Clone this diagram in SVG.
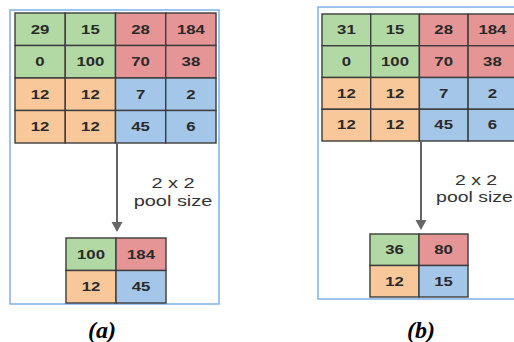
<svg xmlns="http://www.w3.org/2000/svg" width="514" height="342" viewBox="0 0 514 342">
<style>
.frame{fill:#fff;stroke:#7fb0e6;stroke-width:1.5}
.g{fill:#b2d8a4}.r{fill:#e69597}.o{fill:#f8c89a}.b{fill:#a3c6e9}
.cell rect{stroke:#3c3c3c;stroke-width:1.4}
.v{font-family:"Liberation Sans",Arial,sans-serif;font-size:12px;font-weight:bold;fill:#2a2a2a;text-anchor:middle}
.lbl{font-family:"Liberation Sans",Arial,sans-serif;font-size:15px;fill:#333;text-anchor:middle}
.cap{font-family:"Liberation Serif","Times New Roman",serif;font-size:24px;font-weight:bold;font-style:italic;fill:#000;text-anchor:middle}
.arr{stroke:#666;stroke-width:2;fill:none}
.head{fill:#666}
</style>
<rect class="frame" x="10" y="10" width="209" height="294"/>
<rect class="frame" x="318" y="7" width="210" height="292"/>

<g id="gridA" class="cell">
<rect class="g" x="15" y="13" width="50.25" height="32.5"/><rect class="g" x="65.25" y="13" width="50.25" height="32.5"/><rect class="r" x="115.5" y="13" width="50.25" height="32.5"/><rect class="r" x="165.75" y="13" width="50.25" height="32.5"/>
<rect class="g" x="15" y="45.5" width="50.25" height="32.5"/><rect class="g" x="65.25" y="45.5" width="50.25" height="32.5"/><rect class="r" x="115.5" y="45.5" width="50.25" height="32.5"/><rect class="r" x="165.75" y="45.5" width="50.25" height="32.5"/>
<rect class="o" x="15" y="78" width="50.25" height="32.5"/><rect class="o" x="65.25" y="78" width="50.25" height="32.5"/><rect class="b" x="115.5" y="78" width="50.25" height="32.5"/><rect class="b" x="165.75" y="78" width="50.25" height="32.5"/>
<rect class="o" x="15" y="110.5" width="50.25" height="32.5"/><rect class="o" x="65.25" y="110.5" width="50.25" height="32.5"/><rect class="b" x="115.5" y="110.5" width="50.25" height="32.5"/><rect class="b" x="165.75" y="110.5" width="50.25" height="32.5"/>
<text class="v" transform="translate(40,33.5) scale(1.4,1)">29</text><text class="v" transform="translate(90.4,33.5) scale(1.4,1)">15</text><text class="v" transform="translate(140.6,33.5) scale(1.4,1)">28</text><text class="v" transform="translate(190.9,33.5) scale(1.4,1)">184</text>
<text class="v" transform="translate(40,66) scale(1.4,1)">0</text><text class="v" transform="translate(90.4,66) scale(1.4,1)">100</text><text class="v" transform="translate(140.6,66) scale(1.4,1)">70</text><text class="v" transform="translate(190.9,66) scale(1.4,1)">38</text>
<text class="v" transform="translate(40,98.5) scale(1.4,1)">12</text><text class="v" transform="translate(90.4,98.5) scale(1.4,1)">12</text><text class="v" transform="translate(140.6,98.5) scale(1.4,1)">7</text><text class="v" transform="translate(190.9,98.5) scale(1.4,1)">2</text>
<text class="v" transform="translate(40,131) scale(1.4,1)">12</text><text class="v" transform="translate(90.4,131) scale(1.4,1)">12</text><text class="v" transform="translate(140.6,131) scale(1.4,1)">45</text><text class="v" transform="translate(190.9,131) scale(1.4,1)">6</text>
</g>

<g id="poolA" class="cell">
<rect class="g" x="66" y="238" width="50" height="32.5"/><rect class="r" x="116" y="238" width="50" height="32.5"/>
<rect class="o" x="66" y="270.5" width="50" height="32.5"/><rect class="b" x="116" y="270.5" width="50" height="32.5"/>
<text class="v" transform="translate(91,258.5) scale(1.4,1)">100</text><text class="v" transform="translate(141,258.5) scale(1.4,1)">184</text>
<text class="v" transform="translate(91,291) scale(1.4,1)">12</text><text class="v" transform="translate(141,291) scale(1.4,1)">45</text>
</g>

<g id="gridB" class="cell">
<rect class="g" x="322" y="14" width="48.7" height="31.75"/><rect class="g" x="370.7" y="14" width="48.7" height="31.75"/><rect class="r" x="419.4" y="14" width="48.7" height="31.75"/><rect class="r" x="468.1" y="14" width="48.7" height="31.75"/>
<rect class="g" x="322" y="45.75" width="48.7" height="31.75"/><rect class="g" x="370.7" y="45.75" width="48.7" height="31.75"/><rect class="r" x="419.4" y="45.75" width="48.7" height="31.75"/><rect class="r" x="468.1" y="45.75" width="48.7" height="31.75"/>
<rect class="o" x="322" y="77.5" width="48.7" height="31.75"/><rect class="o" x="370.7" y="77.5" width="48.7" height="31.75"/><rect class="b" x="419.4" y="77.5" width="48.7" height="31.75"/><rect class="b" x="468.1" y="77.5" width="48.7" height="31.75"/>
<rect class="o" x="322" y="109.25" width="48.7" height="31.75"/><rect class="o" x="370.7" y="109.25" width="48.7" height="31.75"/><rect class="b" x="419.4" y="109.25" width="48.7" height="31.75"/><rect class="b" x="468.1" y="109.25" width="48.7" height="31.75"/>
<text class="v" transform="translate(346.4,34) scale(1.4,1)">31</text><text class="v" transform="translate(395,34) scale(1.4,1)">15</text><text class="v" transform="translate(443.7,34) scale(1.4,1)">28</text><text class="v" transform="translate(492.4,34) scale(1.4,1)">184</text>
<text class="v" transform="translate(346.4,65.8) scale(1.4,1)">0</text><text class="v" transform="translate(395,65.8) scale(1.4,1)">100</text><text class="v" transform="translate(443.7,65.8) scale(1.4,1)">70</text><text class="v" transform="translate(492.4,65.8) scale(1.4,1)">38</text>
<text class="v" transform="translate(346.4,97.5) scale(1.4,1)">12</text><text class="v" transform="translate(395,97.5) scale(1.4,1)">12</text><text class="v" transform="translate(443.7,97.5) scale(1.4,1)">7</text><text class="v" transform="translate(492.4,97.5) scale(1.4,1)">2</text>
<text class="v" transform="translate(346.4,129.3) scale(1.4,1)">12</text><text class="v" transform="translate(395,129.3) scale(1.4,1)">12</text><text class="v" transform="translate(443.7,129.3) scale(1.4,1)">45</text><text class="v" transform="translate(492.4,129.3) scale(1.4,1)">6</text>
</g>

<g id="poolB" class="cell">
<rect class="g" x="370" y="234" width="49" height="31.5"/><rect class="r" x="419" y="234" width="49" height="31.5"/>
<rect class="o" x="370" y="265.5" width="49" height="31.5"/><rect class="b" x="419" y="265.5" width="49" height="31.5"/>
<text class="v" transform="translate(394.5,254) scale(1.4,1)">36</text><text class="v" transform="translate(443.5,254) scale(1.4,1)">80</text>
<text class="v" transform="translate(394.5,285.5) scale(1.4,1)">12</text><text class="v" transform="translate(443.5,285.5) scale(1.4,1)">15</text>
</g>

<g id="connectors">
<line class="arr" x1="117" y1="143" x2="117" y2="224"/>
<polygon class="head" points="111.5,222 122.5,222 117,232"/>
<line class="arr" x1="421" y1="141" x2="421" y2="222"/>
<polygon class="head" points="415.5,220 426.5,220 421,230"/>
</g>

<g id="labelA">
<text class="lbl" transform="translate(173,188) scale(1.33,1)">2 x 2</text>
<text class="lbl" transform="translate(173,206) scale(1.33,1)">pool size</text>
</g>
<g id="labelB">
<text class="lbl" transform="translate(476,185) scale(1.3,1)">2 x 2</text>
<text class="lbl" transform="translate(474.5,202) scale(1.3,1)">pool size</text>
</g>

<text class="cap" x="102" y="338">(a)</text>
<text class="cap" x="421" y="338">(b)</text>
</svg>
